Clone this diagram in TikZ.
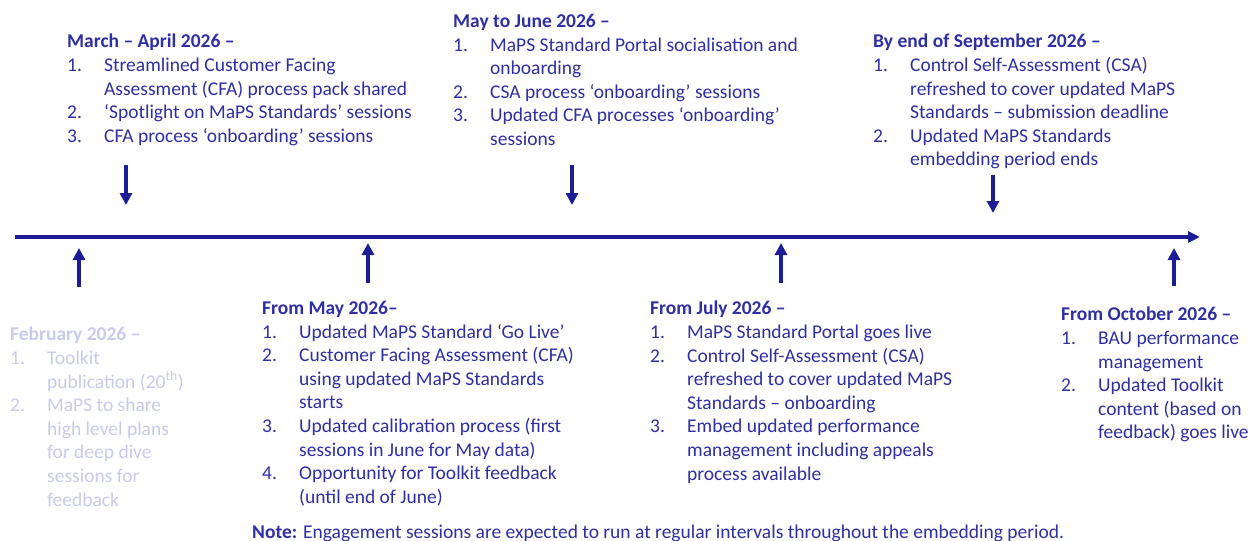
\documentclass[tikz,border=0pt]{standalone}
\usepackage{fontspec}
\setmainfont{Carlito}
\usetikzlibrary{arrows.meta}

\definecolor{navy}{RGB}{28,28,150}
\definecolor{txtblue}{RGB}{46,46,165}
\definecolor{fadeblue}{RGB}{200,202,236}

% number column of the milestone lists
\newcommand{\itemnum}[1]{\makebox[37pt][l]{#1}}
\newcommand{\itemgap}{\hspace*{37pt}}

\tikzset{
  milestone/.style={anchor=north west, inner sep=0pt, align=left, text=txtblue,
    font=\fontsize{19.5}{23.6}\selectfont},
  timeline/.style={draw=navy, line width=4pt, -{Triangle[length=12pt,width=11pt]}},
  tick/.style={draw=navy, line width=3.5pt, -{Triangle[length=12pt,width=12pt]}},
}

\begin{document}
\begin{tikzpicture}[x=1pt,y=-1pt]
\useasboundingbox (0,0) rectangle (1259,541);

% main time axis
\coordinate (t-start) at (15,237);
\coordinate (t-end) at (1200,237);
\draw[timeline] (t-start) -- (t-end);

% milestones above the axis
\node[milestone] (mar) at (67,34) {\textbf{March – April 2026 –}\\
\itemnum{1.}Streamlined Customer Facing\\
\itemgap Assessment (CFA) process pack shared\\
\itemnum{2.}‘Spotlight on MaPS Standards’ sessions\\
\itemnum{3.}CFA process ‘onboarding’ sessions};

\node[milestone] (mayjun) at (453,14) {\textbf{May to June 2026 –}\\
\itemnum{1.}MaPS Standard Portal socialisation and\\
\itemgap onboarding\\
\itemnum{2.}CSA process ‘onboarding’ sessions\\
\itemnum{3.}Updated CFA processes ‘onboarding’\\
\itemgap sessions};

\node[milestone] (sep) at (873,34) {\textbf{By end of September 2026 –}\\
\itemnum{1.}Control Self-Assessment (CSA)\\
\itemgap refreshed to cover updated MaPS\\
\itemgap Standards – submission deadline\\
\itemnum{2.}Updated MaPS Standards\\
\itemgap embedding period ends};

% milestones below the axis
\node[milestone, text=fadeblue] (feb) at (10,327) {\textbf{February 2026 –}\\
\itemnum{1.}Toolkit\\
\itemgap publication (20\textsuperscript{th})\\
\itemnum{2.}MaPS to share\\
\itemgap high level plans\\
\itemgap for deep dive\\
\itemgap sessions for\\
\itemgap feedback};

\node[milestone] (may) at (262,301) {\textbf{From May 2026–}\\
\itemnum{1.}Updated MaPS Standard ‘Go Live’\\
\itemnum{2.}Customer Facing Assessment (CFA)\\
\itemgap using updated MaPS Standards\\
\itemgap starts\\
\itemnum{3.}Updated calibration process (first\\
\itemgap sessions in June for May data)\\
\itemnum{4.}Opportunity for Toolkit feedback\\
\itemgap (until end of June)};

\node[milestone] (jul) at (650,301) {\textbf{From July 2026 –}\\
\itemnum{1.}MaPS Standard Portal goes live\\
\itemnum{2.}Control Self-Assessment (CSA)\\
\itemgap refreshed to cover updated MaPS\\
\itemgap Standards – onboarding\\
\itemnum{3.}Embed updated performance\\
\itemgap management including appeals\\
\itemgap process available};

\node[milestone] (oct) at (1061,307) {\textbf{From October 2026 –}\\
\itemnum{1.}BAU performance\\
\itemgap management\\
\itemnum{2.}Updated Toolkit\\
\itemgap content (based on\\
\itemgap feedback) goes live};

\node[milestone, anchor=base west] (note) at (252,538) {\textbf{Note:} Engagement sessions are expected to run at regular intervals throughout the embedding period.};

% arrows down to the axis
\coordinate (mar-a) at (126,165);
\coordinate (mar-b) at (126,205);
\coordinate (mayjun-a) at (572,165);
\coordinate (mayjun-b) at (572,205);
\coordinate (sep-a) at (993,175);
\coordinate (sep-b) at (993,213);
\draw[tick] (mar-a) -- (mar-b);
\draw[tick] (mayjun-a) -- (mayjun-b);
\draw[tick] (sep-a) -- (sep-b);

% arrows up from below
\coordinate (feb-a) at (79,287);
\coordinate (feb-b) at (79,248);
\coordinate (may-a) at (368,283);
\coordinate (may-b) at (368,243);
\coordinate (jul-a) at (781,283);
\coordinate (jul-b) at (781,243);
\coordinate (oct-a) at (1174,286);
\coordinate (oct-b) at (1174,248);
\draw[tick] (feb-a) -- (feb-b);
\draw[tick] (may-a) -- (may-b);
\draw[tick] (jul-a) -- (jul-b);
\draw[tick] (oct-a) -- (oct-b);
\end{tikzpicture}
\end{document}
